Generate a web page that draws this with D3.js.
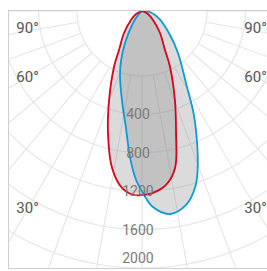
<!DOCTYPE html>
<html><head><meta charset="utf-8">
<script src="https://cdn.jsdelivr.net/npm/d3@7"></script>
<style>html,body{margin:0;padding:0;background:#fff;}svg{display:block;}</style>
</head><body>
<svg id="chart" width="267" height="271"></svg>
<script>
// Radial axis tick labels (cd)
const radialTicks = [400, 800, 1200, 1600, 2000];
const gridValues = [0, 400, 800, 1200, 1600, 2000];
// Angle labels (deg)
const angleLabels = [90, 60, 30];
// Series 1 (red) - angle from nadir (deg), intensity (cd)
const redAngles = [-90,-63.4,-50.7,-39.3,-30.5,-26.6,-20.3,-15.6,-10.8,-6.45,-2.6,0,3.46,7.85,11.9,15.6,20.3,26.6,30.5,39.3,50.7,63.4,90];
const redValues = [0,52,111,222,354,489,741,989,1248,1391,1439,1438,1424,1372,1253,989,741,489,354,222,111,52,0];
// Series 2 (blue)
const blueAngles = [-90,-45,-36.9,-28,-22.8,-18.7,-12.7,-7.8,-4.7,-2.0,0.3,3.2,7.85,12.8,17.0,19.9,23.7,26.8,30.6,40.6,49.4,66.2,82.9,90];
const blueValues = [0,45,117,283,423,536,713,923,1145,1321,1422,1534,1601,1554,1430,1280,1058,893,690,432,288,145,63,0];

const W = 267, H = 271;
const cx = 142, cy = 11;
const frame = {x: 8.5, y: 10.5, w: 267, h: 258};

const svg = d3.select('#chart');
const defs = svg.append('defs');
defs.append('clipPath').attr('id','clip').append('rect')
  .attr('x', frame.x).attr('y', frame.y).attr('width', frame.w).attr('height', frame.h);

const gridScale = d3.scaleLinear().domain([0, 2000]).range([65, 257]);
const rScale = d3.scaleLinear().domain([0, 2000]).range([0, 256]);

const g = svg.append('g').attr('clip-path','url(#clip)');
const c = g.append('g').attr('transform', `translate(${cx},${cy})`);

// grid circles
c.selectAll('circle.grid').data(gridValues).join('circle')
  .attr('r', d => gridScale(d)).attr('fill','none')
  .attr('stroke','#e4e4e4').attr('stroke-width',1.1);
// radial lines every 10 deg
const spokes = d3.range(0, 360, 10);
c.selectAll('line.spoke').data(spokes).join('line')
  .attr('x1', d => gridScale(0)*Math.sin(d*Math.PI/180))
  .attr('y1', d => gridScale(0)*Math.cos(d*Math.PI/180))
  .attr('x2', d => 420*Math.sin(d*Math.PI/180))
  .attr('y2', d => 420*Math.cos(d*Math.PI/180))
  .attr('stroke','#e4e4e4').attr('stroke-width',1.1);

function curvePath(angles, values) {
  const pts = angles.map((a,i) => [a, values[i]]);
  return d3.lineRadial()
    .angle(d => Math.PI - d[0]*Math.PI/180)
    .radius(d => rScale(d[1]))
    .curve(d3.curveCatmullRom.alpha(0.5))(pts) + 'Z';
}

const series = [
  {angles: blueAngles, values: blueValues, color: '#0a9bd8'},
  {angles: redAngles, values: redValues, color: '#d9001b'}
];
c.selectAll('path.fill').data(series).join('path')
  .attr('d', d => curvePath(d.angles, d.values))
  .attr('fill', '#888').attr('fill-opacity', 0.3).attr('stroke','none');
c.selectAll('path.line').data(series).join('path')
  .attr('d', d => curvePath(d.angles, d.values))
  .attr('fill', 'none').attr('stroke', d => d.color).attr('stroke-width', 1.8);

// frame
svg.append('rect').attr('x', frame.x).attr('y', frame.y).attr('width', frame.w).attr('height', frame.h)
  .attr('fill','none').attr('stroke','#cfcfcf').attr('stroke-width',1);

// radial value labels
svg.selectAll('text.rl').data(radialTicks).join('text')
  .attr('x', cx - 4)
  .attr('y', d => Math.min(cy + gridScale(d), 258))
  .attr('text-anchor','middle').attr('dominant-baseline','central')
  .attr('font-family','Roboto, sans-serif').attr('font-size', 14)
  .attr('fill','#7a7a7a').text(d => d);

// angle labels
const lx = 114;
angleLabels.forEach(a => {
  const t = a * Math.PI/180;
  const y = Math.max(cy + lx / Math.tan(t), 27.5);
  [-1, 1].forEach(s => {
    svg.append('text')
      .attr('x', cx + s*lx - 0.5).attr('y', y)
      .attr('text-anchor','middle').attr('dominant-baseline','central')
      .attr('font-family','Roboto, sans-serif').attr('font-size', 15)
      .attr('fill','#555').text(a + '°');
  });
});
</script>
</body></html>
